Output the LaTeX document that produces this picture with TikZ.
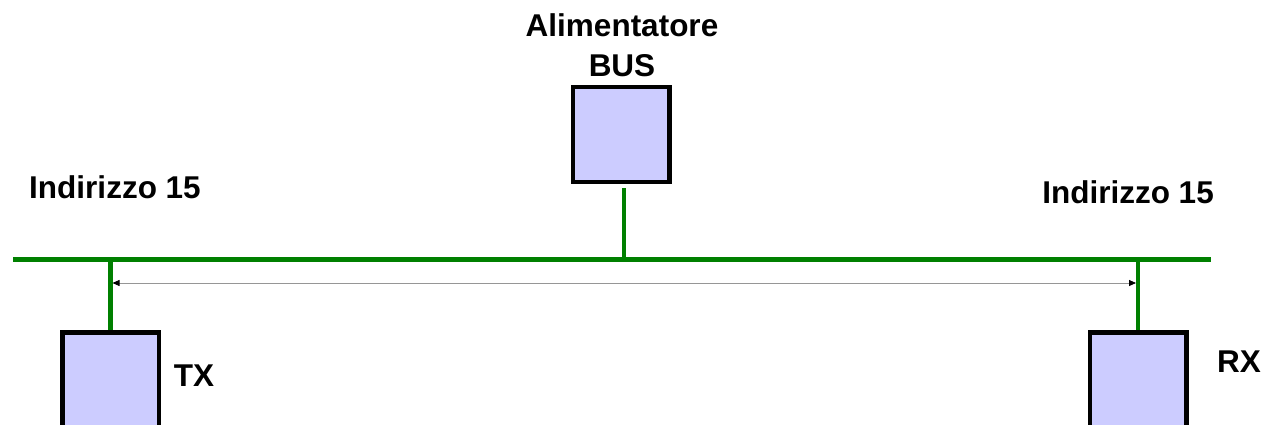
\documentclass[tikz,border=0pt]{standalone}
\usepackage{fontspec}
\setmainfont{Liberation Sans}
\usepackage{xcolor}
\definecolor{busgreen}{RGB}{0,128,0}
\definecolor{boxfill}{RGB}{204,204,255}
\definecolor{dimgray}{RGB}{150,150,150}
\usepackage{tikz}
\usetikzlibrary{arrows.meta,positioning,calc}

\begin{document}
\begin{tikzpicture}[
  x=1pt,y=-1pt,
  dev/.style={rectangle,draw=black,line width=4.5pt,fill=boxfill,minimum width=96.5pt,minimum height=94.5pt,inner sep=0pt},
  busline/.style={draw=busgreen,line width=4.5pt},
  dimarrow/.style={{Triangle[length=7pt,width=6pt,color=black]}-{Triangle[length=7pt,width=6pt,color=black]},draw=dimgray,line width=0.8pt},
  lbl/.style={font=\bfseries\fontsize{31.5}{40}\selectfont,inner sep=0pt,anchor=base}
]
  \clip (0,0) rectangle (1263,425);

  % Devices
  \node[dev] (psu) at (621,134.5) {};
  \node[dev] (tx) at (110.5,379.5) {};
  \node[dev] (rx) at (1138,379.5) {};

  % Bus line
  \coordinate (busL) at (13,259.5);
  \coordinate (busR) at (1211,259.5);
  \draw[busline] (busL) -- (busR);
  \draw[busline] ([xshift=3pt,yshift=-4pt]psu.south) -- ([xshift=3pt]psu.south |- busL);
  \draw[busline] (tx.north |- busL) -- (tx.north);
  \draw[busline] (rx.north |- busL) -- (rx.north);

  % Distance arrow
  \coordinate (dimL) at (112.5,283);
  \coordinate (dimR) at (1136,283);
  \draw[dimarrow] (dimL) -- (dimR);

  % Labels
  \node[lbl] (psulbl1) at (622,37) {Alimentatore};
  \node[lbl] (psulbl2) at (622,77) {BUS};
  \node[lbl] (addrL) at (115,198) {Indirizzo 15};
  \node[lbl] (addrR) at (1128,203) {Indirizzo 15};
  \node[lbl] (txlbl) at (194,386) {TX};
  \node[lbl] (rxlbl) at (1239,372) {RX};
\end{tikzpicture}
\end{document}
